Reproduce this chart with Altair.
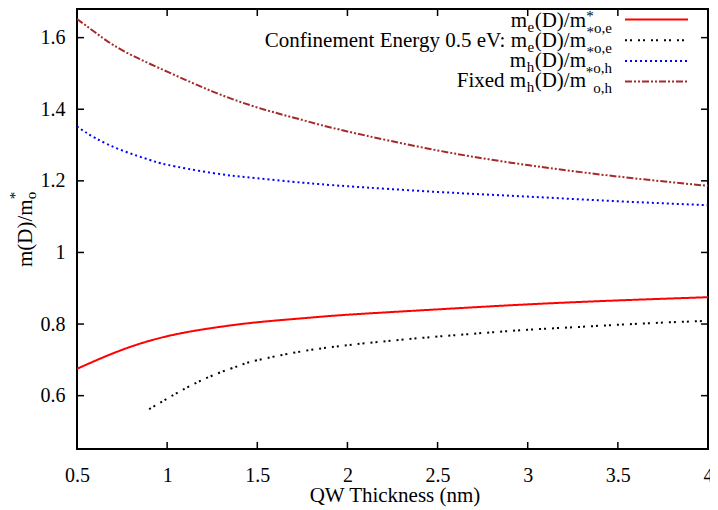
import altair as alt
import pandas as pd

# ---------------- data ----------------
x_ticks = [0.5, 1, 1.5, 2, 2.5, 3, 3.5, 4]
y_ticks = [0.6, 0.8, 1.0, 1.2, 1.4, 1.6]

me_x = [0.5, 0.75, 1.0, 1.25, 1.5, 1.75, 2.0, 2.5, 3.0, 3.5, 4.0]
me_y = [0.675, 0.728, 0.766, 0.789, 0.805, 0.816, 0.826, 0.841, 0.855, 0.866, 0.875]

me05_x = [0.9, 1.0, 1.1, 1.2, 1.3, 1.4, 1.5, 1.75, 2.0, 2.25, 2.5, 2.75, 3.0, 3.25, 3.5, 3.75, 4.0]
me05_y = [0.562, 0.592, 0.620, 0.645, 0.666, 0.684, 0.699, 0.724, 0.741, 0.754, 0.765, 0.775, 0.784, 0.791, 0.798, 0.804, 0.809]

mh_x = [0.5, 0.6, 0.75, 0.9, 1.0, 1.25, 1.5, 1.75, 2.0, 2.5, 3.0, 3.5, 4.0]
mh_y = [1.352, 1.32, 1.285, 1.259, 1.245, 1.222, 1.207, 1.195, 1.185, 1.169, 1.156, 1.143, 1.132]

mhfix_x = [0.5, 0.6, 0.75, 1.0, 1.25, 1.5, 1.75, 2.0, 2.5, 3.0, 3.5, 4.0]
mhfix_y = [1.652, 1.615, 1.565, 1.505, 1.45, 1.405, 1.37, 1.338, 1.285, 1.244, 1.212, 1.186]

series_names = ["me", "me05", "mh", "mhfix"]
series_colors = ["#ff0000", "#000000", "#0000ff", "#a52a2a"]
series_dashes = [[1, 0], [2, 3, 2, 6], [2, 3], [7, 2, 2, 2, 2, 2]]

# ---------------- layout ----------------
PAD_L, PAD_T, PAD_R, PAD_B = 69, 1, 2, 60
W, H = 631, 440
X0, Y0 = 8 + PAD_L, 8 + PAD_T          # page position of the plot origin
FONT = "Liberation Serif"

rows = []
for name, xs, ys in zip(series_names, [me_x, me05_x, mh_x, mhfix_x], [me_y, me05_y, mh_y, mhfix_y]):
    for a, b in zip(xs, ys):
        rows.append({"s": name, "x": a, "y": b})
df = pd.DataFrame(rows)

xscale = alt.Scale(domain=[0.5, 4], nice=False, zero=False)
yscale = alt.Scale(domain=[0.451, 1.68], nice=False, zero=False)
xaxis = alt.Axis(values=x_ticks, format="~g", ticks=False, tickSize=0, domain=False, grid=False,
                 labelPadding=16, labelFlush=False, labelOverlap=False, title="")
yaxis = alt.Axis(values=y_ticks, format="~g", ticks=False, tickSize=0, domain=False, grid=False,
                 labelPadding=12, labelFlush=False, labelOverlap=False, title="")

lines = alt.Chart(df).mark_line(strokeWidth=2, interpolate="natural", clip=True).encode(
    x=alt.X("x:Q", scale=xscale, axis=xaxis),
    y=alt.Y("y:Q", scale=yscale, axis=yaxis),
    color=alt.Color("s:N", scale=alt.Scale(domain=series_names, range=series_colors), legend=None),
    strokeDash=alt.StrokeDash("s:N", scale=alt.Scale(domain=series_names, range=series_dashes), legend=None),
)

xt = pd.DataFrame({"x": x_ticks})
yt = pd.DataFrame({"y": y_ticks})
TL = 7
tick_b = alt.Chart(xt).mark_rule(color="black", strokeWidth=1.5).encode(
    x=alt.X("x:Q", scale=xscale, axis=xaxis), y=alt.value(H), y2=alt.value(H - TL))
tick_t = alt.Chart(xt).mark_rule(color="black", strokeWidth=1.5).encode(
    x=alt.X("x:Q", scale=xscale, axis=xaxis), y=alt.value(0), y2=alt.value(TL))
tick_l = alt.Chart(yt).mark_rule(color="black", strokeWidth=1.5).encode(
    y=alt.Y("y:Q", scale=yscale, axis=yaxis), x=alt.value(0), x2=alt.value(TL))
tick_r = alt.Chart(yt).mark_rule(color="black", strokeWidth=1.5).encode(
    y=alt.Y("y:Q", scale=yscale, axis=yaxis), x=alt.value(W), x2=alt.value(W - TL))

layers = [tick_b, tick_t, tick_l, tick_r, lines]

# ---------------- legend ----------------
TW = {"(": 333, ")": 333, "D": 722, "/": 278, "m": 778, "e": 444, "h": 500,
      "o": 500, ",": 250, "*": 500}


def tw(s, size):
    return sum(TW.get(c, 500) for c in s) / 1000.0 * size


def text_piece(txt, px, py, size, align="right", angle=0):
    kw = dict(align=align, baseline="alphabetic", font=FONT, fontSize=size, color="black")
    if angle:
        kw["angle"] = angle
    return alt.Chart(pd.DataFrame({"t": [txt]})).mark_text(**kw).encode(
        text="t:N", x=alt.value(px - X0), y=alt.value(py - Y0))


legend_prefix = ["m", "Confinement Energy 0.5 eV: m", "m", "Fixed m"]
legend_mid_sub = ["e", "e", "h", "h"]
legend_end_sub = ["o,e", "o,e", "o,h", "o,h"]
legend_star = [True, True, True, False]

R_MAIN, R_SUB = 586, 612
BIG, SMALL = 21, 15
for i in range(4):
    base = 26.6 + 20.0 * i
    r = R_MAIN
    layers.append(text_piece("(D)/m", r, base, BIG))
    r -= tw("(D)/m", BIG) + 0.5
    layers.append(text_piece(legend_mid_sub[i], r, base + 5, SMALL))
    r -= tw(legend_mid_sub[i], SMALL) + 0.5
    layers.append(text_piece(legend_prefix[i], r, base, BIG))
    layers.append(text_piece(legend_end_sub[i], R_SUB, base + 6, SMALL))
    if legend_star[i]:
        layers.append(text_piece("*", R_SUB - tw(legend_end_sub[i], SMALL), base + 10, SMALL))
    # sample line
    ly = 19.5 + 20.7 * i
    layers.append(
        alt.Chart(pd.DataFrame({"k": [0]})).mark_rule(
            color=series_colors[i], strokeDash=series_dashes[i], strokeWidth=2, strokeCap="butt"
        ).encode(x=alt.value(625 - X0), x2=alt.value(688 - X0), y=alt.value(ly - Y0))
    )
# superscript star of the first entry
layers.append(text_piece("*", 590, 20.5, SMALL, align="center"))

# ---------------- axis titles ----------------
layers.append(text_piece("m(D)/m", 32, 267, BIG, align="left", angle=270))
ystart = 267 - tw("m(D)/m", BIG)
layers.append(text_piece("o", 36, ystart, SMALL, align="left", angle=270))
layers.append(text_piece("*", 20, ystart, SMALL, align="left", angle=270))
layers.append(text_piece("QW Thickness (nm)", 395, 502, BIG, align="center"))

chart = alt.layer(*layers).properties(
    width=W, height=H,
    autosize=alt.AutoSizeParams(type="none"),
    padding={"left": PAD_L, "top": PAD_T, "right": PAD_R, "bottom": PAD_B},
).configure_view(
    stroke="black", strokeWidth=2
).configure_axis(
    labelFont=FONT, labelFontSize=20, labelColor="black",
)

chart.save("out.html", embed_options={"renderer": "svg", "actions": False})
